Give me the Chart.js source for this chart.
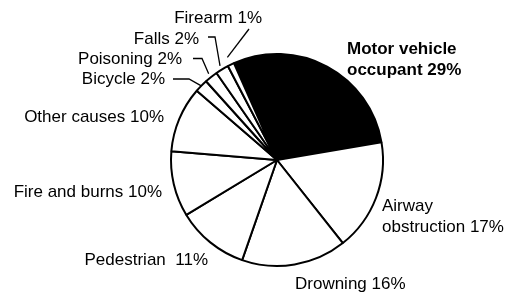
<!DOCTYPE html>
<html>
<head>
<meta charset="utf-8">
<script src="https://cdn.jsdelivr.net/npm/chart.js@4/dist/chart.umd.min.js"></script>
<style>
  html, body { margin: 0; padding: 0; background: #fff; }
  #wrap { width: 506px; height: 292px; position: relative; }
</style>
</head>
<body>
<div id="wrap"><canvas id="pieChart"></canvas></div>
<script>
// data
const causes = ['Motor vehicle occupant', 'Airway obstruction', 'Drowning', 'Pedestrian',
  'Fire and burns', 'Other causes', 'Bicycle', 'Poisoning', 'Falls', 'Firearm'];
const shares = [29, 17, 16, 11, 10, 10, 2, 2, 2, 1];
const sliceColors = ['#000000', '#ffffff', '#ffffff', '#ffffff', '#ffffff',
  '#ffffff', '#ffffff', '#ffffff', '#ffffff', '#ffffff'];

// where the labels sit (lines of text, anchor x, first baseline, align)
const labelLayout = [
  { lines: ['Motor vehicle', 'occupant 29%'], x: 347, y: 54, align: 'left', bold: true },
  { lines: ['Airway', 'obstruction 17%'], x: 382, y: 211, align: 'left' },
  { lines: ['Drowning 16%'], x: 295, y: 289, align: 'left' },
  { lines: ['Pedestrian  11%'], x: 208, y: 265, align: 'right' },
  { lines: ['Fire and burns 10%'], x: 162, y: 197, align: 'right' },
  { lines: ['Other causes 10%'], x: 164, y: 122, align: 'right' },
  { lines: ['Bicycle 2%'], x: 165, y: 84, align: 'right', leader: [[173, 79], [189, 79]], reach: 0 },
  { lines: ['Poisoning 2%'], x: 182, y: 64, align: 'right', leader: [[193, 58.5], [202, 58.5]], reach: 4 },
  { lines: ['Falls 2%'], x: 199, y: 44, align: 'right', leader: [[208, 37], [215, 37]], reach: 4 },
  { lines: ['Firearm 1%'], x: 262, y: 23, align: 'right', leader: [[249, 29]], reach: 8 }
];

const labelPlugin = {
  id: 'sliceLabels',
  afterDraw(chart) {
    const ctx = chart.ctx;
    const arcs = chart.getDatasetMeta(0).data;
    ctx.save();
    ctx.fillStyle = '#000';
    ctx.strokeStyle = '#000';
    ctx.lineWidth = 1.3;
    labelLayout.forEach((lab, i) => {
      ctx.font = (lab.bold ? 'bold ' : '') + '17px "Liberation Sans", Arial, sans-serif';
      ctx.textAlign = lab.align;
      ctx.textBaseline = 'alphabetic';
      lab.lines.forEach((t, k) => ctx.fillText(t, lab.x, lab.y + k * 20.5));
      if (lab.leader) {
        const arc = arcs[i];
        const mid = (arc.startAngle + arc.endAngle) / 2;
        const r = arc.outerRadius + lab.reach;
        ctx.beginPath();
        ctx.moveTo(lab.leader[0][0], lab.leader[0][1]);
        for (let j = 1; j < lab.leader.length; j++) ctx.lineTo(lab.leader[j][0], lab.leader[j][1]);
        ctx.lineTo(arc.x + Math.cos(mid) * r, arc.y + Math.sin(mid) * r);
        ctx.stroke();
      }
    });
    ctx.restore();
  }
};

new Chart(document.getElementById('pieChart').getContext('2d'), {
  type: 'pie',
  data: {
    labels: causes,
    datasets: [{
      data: shares,
      backgroundColor: sliceColors,
      borderColor: '#000',
      borderWidth: 2
    }]
  },
  options: {
    responsive: true,
    maintainAspectRatio: false,
    animation: false,
    rotation: -24,
    layout: { padding: { left: 170, right: 122, top: 53, bottom: 25 } },
    plugins: {
      legend: { display: false },
      tooltip: { enabled: false }
    }
  },
  plugins: [labelPlugin]
});
</script>
</body>
</html>
